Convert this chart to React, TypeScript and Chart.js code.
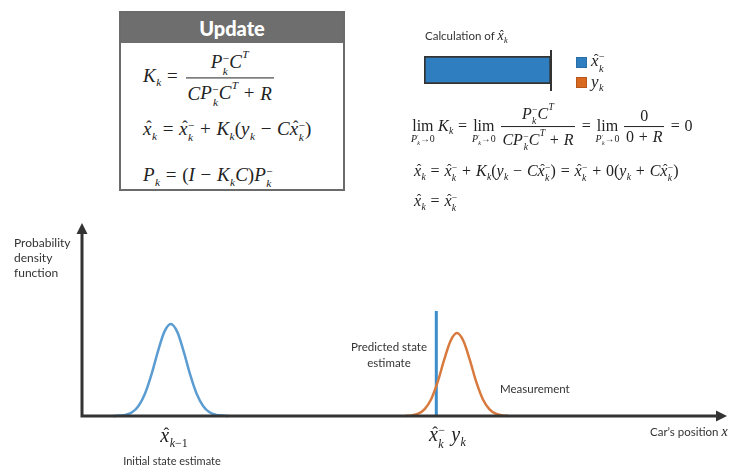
import React, { useEffect, useRef } from "react";
import { Chart, registerables } from "chart.js";

Chart.register(...registerables);

// ---- data ----
// x: car position (0..100 across the axis), y: probability density (0..1 up to the arrow tip)
const priorX = [4.9, 5.9, 6.9, 7.9, 8.9, 9.9, 10.9, 11.9, 12.9, 13.9, 14.9, 15.9, 16.9, 17.9, 18.9, 19.9, 20.9, 21.9, 22.9];
const priorY = [0, 0.002, 0.006, 0.019, 0.052, 0.115, 0.214, 0.334, 0.436, 0.477, 0.436, 0.334, 0.214, 0.115, 0.052, 0.019, 0.006, 0.002, 0];
const measX = [50.2, 51.2, 52.2, 53.2, 54.2, 55.2, 56.2, 57.2, 58.2, 59.2, 60.2, 61.2, 62.2, 63.2, 64.2, 65.2, 66.2];
const measY = [0, 0.003, 0.012, 0.036, 0.087, 0.175, 0.289, 0.389, 0.43, 0.389, 0.289, 0.175, 0.087, 0.036, 0.012, 0.003, 0];
const predictedX = [55.0, 55.0];
const predictedY = [0, 0.544];

// bar: share of x̂_k coming from each term
const barCategories = [""];
const barPrior = [1];
const barMeas = [0];

const BLUE_CURVE = "#5b9cd1";
const BLUE_LINE = "#3b8dcb";
const ORANGE = "#d87a3e";
const BAR_BLUE = "#2f7fc0";
const BAR_ORANGE = "#d9691e";
const INK = "#222";

const mathFont = "'Liberation Serif', 'Times New Roman', serif";

const Hat = ({ children }: any) => (
  <span style={{ position: "relative", display: "inline-block" }}>
    <i>{children}</i>
    <span style={{ position: "absolute", left: "0.1em", top: "0.02em", width: "100%", textAlign: "center", fontStyle: "normal", fontSize: "0.85em" }}>ˆ</span>
  </span>
);

const V = ({ c, hat, sub, sup, upSub }: any) => {
  const base = hat ? <Hat>{c}</Hat> : <i>{c}</i>;
  let scripts: any = null;
  if (sub && sup) {
    scripts = (
      <span style={{ display: "inline-flex", flexDirection: "column", fontSize: "0.6em", lineHeight: 1.1, verticalAlign: "0.55em", marginLeft: "0.04em" }}>
        <span>{sup}</span>
        <span><i>{sub}</i></span>
      </span>
    );
  } else if (sub) {
    scripts = <span style={{ fontSize: "0.6em", verticalAlign: "-0.4em", marginLeft: "0.04em" }}>{upSub ? sub : <i>{sub}</i>}</span>;
  } else if (sup) {
    scripts = <span style={{ fontSize: "0.6em", verticalAlign: "0.9em", marginLeft: "0.04em" }}><i>{sup}</i></span>;
  }
  return (
    <span>
      {base}
      {scripts}
    </span>
  );
};

const Op = ({ children }: any) => <span style={{ margin: "0 0.3em" }}>{children}</span>;

const Frac = ({ n, d }: any) => (
  <span style={{ display: "inline-flex", flexDirection: "column", alignItems: "center", verticalAlign: "middle", margin: "0 0.12em" }}>
    <span style={{ padding: "0 0.1em", lineHeight: 1.25 }}>{n}</span>
    <span style={{ borderTop: `1px solid ${INK}`, alignSelf: "stretch", textAlign: "center", padding: "0 0.1em", lineHeight: 1.25 }}>{d}</span>
  </span>
);

const Lim = () => (
  <span style={{ display: "inline-flex", flexDirection: "column", alignItems: "center", verticalAlign: "baseline", marginRight: "0.2em" }}>
    <span>lim</span>
    <span style={{ fontSize: "0.62em", lineHeight: 1, marginTop: "-0.1em" }}>
      <V c="P" sub="k" sup="′" />→0
    </span>
  </span>
);

const Abs = ({ left, top, center, children, style }: any) => (
  <div
    style={{
      position: "absolute",
      left,
      top,
      transform: center ? "translate(-50%, -50%)" : "translateY(-50%)",
      whiteSpace: "nowrap",
      ...style,
    }}
  >
    {children}
  </div>
);

const axesPlugin = {
  id: "arrowAxes",
  afterDatasetsDraw(chart: any) {
    const { ctx, chartArea } = chart;
    const { left, right, top, bottom } = chartArea;
    const ax = left + 1;
    ctx.save();
    ctx.strokeStyle = "#333";
    ctx.fillStyle = "#333";
    ctx.lineWidth = 3;
    ctx.beginPath();
    ctx.moveTo(ax - 1.5, bottom);
    ctx.lineTo(right - 8, bottom);
    ctx.moveTo(ax, bottom);
    ctx.lineTo(ax, top + 8);
    ctx.stroke();
    ctx.beginPath();
    ctx.moveTo(right, bottom);
    ctx.lineTo(right - 11, bottom - 5.5);
    ctx.lineTo(right - 11, bottom + 5.5);
    ctx.closePath();
    ctx.fill();
    ctx.beginPath();
    ctx.moveTo(ax, top);
    ctx.lineTo(ax - 5.5, top + 11);
    ctx.lineTo(ax + 5.5, top + 11);
    ctx.closePath();
    ctx.fill();
    ctx.restore();
  },
};

const barMarkPlugin = {
  id: "barMark",
  afterDatasetsDraw(chart: any) {
    const { ctx, chartArea } = chart;
    const x = chart.scales.x.getPixelForValue(1);
    ctx.save();
    ctx.strokeStyle = "#333";
    ctx.lineWidth = 2;
    ctx.beginPath();
    ctx.moveTo(x, chartArea.top - 6);
    ctx.lineTo(x, chartArea.bottom + 7);
    ctx.stroke();
    ctx.restore();
  },
};

export default function App() {
  const mainRef = useRef<HTMLCanvasElement>(null);
  const barRef = useRef<HTMLCanvasElement>(null);

  useEffect(() => {
    const main = new Chart(mainRef.current as HTMLCanvasElement, {
      type: "line",
      data: {
        datasets: [
          {
            label: "Initial state estimate",
            data: priorX.map((x, i) => ({ x, y: priorY[i] })),
            borderColor: BLUE_CURVE,
            borderWidth: 2.5,
            pointRadius: 0,
            cubicInterpolationMode: "monotone",
            clip: false as any,
          },
          {
            label: "Measurement",
            data: measX.map((x, i) => ({ x, y: measY[i] })),
            borderColor: ORANGE,
            borderWidth: 2.5,
            pointRadius: 0,
            cubicInterpolationMode: "monotone",
            clip: false as any,
          },
          {
            label: "Predicted state estimate",
            data: predictedX.map((x, i) => ({ x, y: predictedY[i] })),
            borderColor: BLUE_LINE,
            borderWidth: 3,
            pointRadius: 0,
            clip: false as any,
          },
        ],
      },
      options: {
        responsive: false,
        animation: false,
        layout: { padding: { left: 81, right: 22, top: 223, bottom: 50 } },
        plugins: { legend: { display: false }, tooltip: { enabled: false } },
        scales: {
          x: { type: "linear", min: 0, max: 100, display: false },
          y: { type: "linear", min: 0, max: 1, display: false },
        },
      },
      plugins: [axesPlugin],
    });

    const bar = new Chart(barRef.current as HTMLCanvasElement, {
      type: "bar",
      data: {
        labels: barCategories,
        datasets: [
          { label: "x̂k-", data: barPrior, backgroundColor: BAR_BLUE, borderColor: "#333", borderWidth: 2, borderSkipped: false },
          { label: "yk", data: barMeas, backgroundColor: BAR_ORANGE, borderColor: "#333", borderWidth: 0 },
        ],
      },
      options: {
        indexAxis: "y",
        responsive: false,
        animation: false,
        layout: { padding: { left: 4, right: 7, top: 10, bottom: 12 } },
        datasets: { bar: { barPercentage: 1, categoryPercentage: 1 } } as any,
        plugins: { legend: { display: false }, tooltip: { enabled: false } },
        scales: {
          x: { stacked: true, min: 0, max: 1, display: false },
          y: { stacked: true, display: false },
        },
      },
      plugins: [barMarkPlugin],
    });

    return () => {
      main.destroy();
      bar.destroy();
    };
  }, []);

  const sans = "Lato, 'Open Sans', sans-serif";
  const label = { fontFamily: sans, fontSize: 11.5, color: "#333" };

  return (
    <div style={{ position: "absolute", left: 0, top: 0, width: 749, height: 466, background: "#fff", overflow: "hidden", fontFamily: sans }}>
      <canvas ref={mainRef} width={749} height={466} style={{ position: "absolute", left: 0, top: 0 }} />
      <canvas ref={barRef} width={138} height={50} style={{ position: "absolute", left: 420, top: 46 }} />

      {/* Update box */}
      <div style={{ position: "absolute", left: 119, top: 11, width: 222, height: 176, border: "2px solid #6b6b6b", background: "#fff" }}>
        <div style={{ height: 30, background: "#6e6e6e", color: "#fff", fontWeight: 900, fontSize: 20, textAlign: "center", lineHeight: "30px" }}>Update</div>
      </div>
      <div style={{ fontFamily: mathFont, fontSize: 19, color: INK }}>
        <Abs left={143} top={78}>
          <V c="K" sub="k" />
          <Op>=</Op>
          <Frac
            n={<><V c="P" sub="k" sup="−" /><V c="C" sup="T" /></>}
            d={<><V c="C" /><V c="P" sub="k" sup="−" /><V c="C" sup="T" /><Op>+</Op><V c="R" /></>}
          />
        </Abs>
        <Abs left={143} top={131}>
          <V c="x" hat sub="k" />
          <Op>=</Op>
          <V c="x" hat sub="k" sup="−" />
          <Op>+</Op>
          <V c="K" sub="k" />(<V c="y" sub="k" />
          <Op>−</Op>
          <V c="C" />
          <V c="x" hat sub="k" sup="−" />)
        </Abs>
        <Abs left={143} top={177}>
          <V c="P" sub="k" />
          <Op>=</Op>(<V c="I" />
          <Op>−</Op>
          <V c="K" sub="k" />
          <V c="C" />)<V c="P" sub="k" sup="−" />
        </Abs>
      </div>

      {/* calculation of x̂k */}
      <Abs left={425} top={37} style={label}>
        Calculation of <span style={{ fontFamily: mathFont, fontSize: 14, color: INK }}><V c="x" hat sub="k" /></span>
      </Abs>
      <div style={{ position: "absolute", left: 576, top: 57, width: 11, height: 11, background: BAR_BLUE, boxShadow: "inset 0 0 0 1px #2a6ea6" }} />
      <div style={{ position: "absolute", left: 576, top: 77, width: 11, height: 11, background: BAR_ORANGE, boxShadow: "inset 0 0 0 1px #b5571a" }} />
      <div style={{ fontFamily: mathFont, fontSize: 17, color: INK }}>
        <Abs left={591} top={62}><V c="x" hat sub="k" sup="−" /></Abs>
        <Abs left={591} top={83}><V c="y" sub="k" /></Abs>
      </div>

      <div style={{ fontFamily: mathFont, fontSize: 16, color: INK }}>
        <Abs left={411} top={127}>
          <Lim />
          <V c="K" sub="k" />
          <Op>=</Op>
          <Lim />
          <Frac
            n={<><V c="P" sub="k" sup="−" /><V c="C" sup="T" /></>}
            d={<><V c="C" /><V c="P" sub="k" sup="−" /><V c="C" sup="T" /><Op>+</Op><V c="R" /></>}
          />
          <Op>=</Op>
          <Lim />
          <Frac n={<>0</>} d={<>0<Op>+</Op><V c="R" /></>} />
          <Op>=</Op>0
        </Abs>
        <Abs left={414} top={173}>
          <V c="x" hat sub="k" />
          <Op>=</Op>
          <V c="x" hat sub="k" sup="−" />
          <Op>+</Op>
          <V c="K" sub="k" />(<V c="y" sub="k" />
          <Op>−</Op>
          <V c="C" />
          <V c="x" hat sub="k" sup="−" />)
          <Op>=</Op>
          <V c="x" hat sub="k" sup="−" />
          <Op>+</Op>0(<V c="y" sub="k" />
          <Op>+</Op>
          <V c="C" />
          <V c="x" hat sub="k" sup="−" />)
        </Abs>
        <Abs left={414} top={203}>
          <V c="x" hat sub="k" />
          <Op>=</Op>
          <V c="x" hat sub="k" sup="−" />
        </Abs>
      </div>

      {/* chart labels */}
      <div style={{ position: "absolute", left: 14, top: 235, lineHeight: "15px", ...label, fontSize: 12 }}>
        Probability
        <br />
        density
        <br />
        function
      </div>
      <div style={{ position: "absolute", left: 389, top: 339, transform: "translateX(-50%)", textAlign: "center", lineHeight: "16px", whiteSpace: "nowrap", ...label }}>
        Predicted state
        <br />
        estimate
      </div>
      <Abs left={500} top={388} style={label}>Measurement</Abs>
      <Abs left={174} top={437} center style={{ fontFamily: mathFont, fontSize: 20, color: INK }}>
        <V c="x" hat sub={<><i>k</i>−1</>} upSub />
      </Abs>
      <Abs left={172} top={460} center style={{ ...label, fontSize: 11 }}>Initial state estimate</Abs>
      <Abs left={429} top={437} style={{ fontFamily: mathFont, fontSize: 20, color: INK }}>
        <V c="x" hat sub="k" sup="−" />
        <span style={{ marginLeft: 6 }}><V c="y" sub="k" /></span>
      </Abs>
      <Abs left={650} top={432} style={label}>
        Car’s position <span style={{ fontFamily: mathFont, fontStyle: "italic", fontSize: 14, color: INK }}>x</span>
      </Abs>
    </div>
  );
}
